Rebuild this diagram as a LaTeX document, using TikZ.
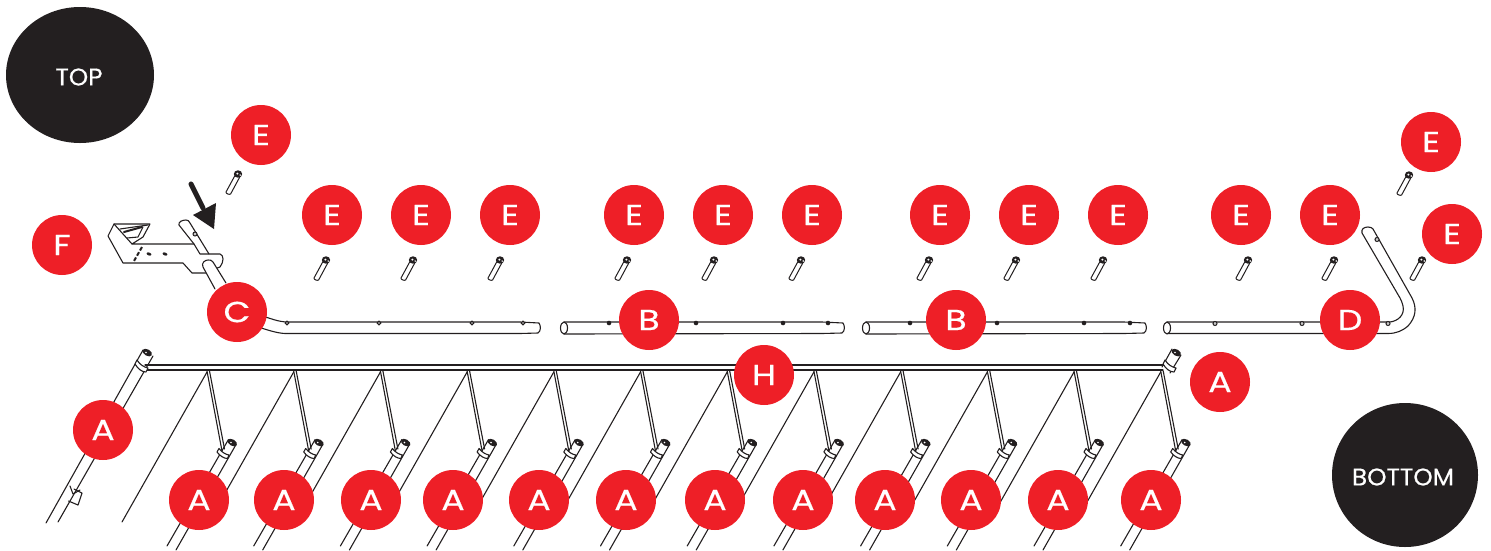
\documentclass[tikz,border=0pt]{standalone}
\usepackage{fontspec}
\setmainfont{Poppins}[FakeBold=0.5]
\newfontfamily\tagfont{Poppins}[FakeBold=0.5,FakeStretch=1.2]
\newfontfamily\sidefont{Poppins}[FakeBold=0.5,FakeStretch=1.03]
\definecolor{tagred}{HTML}{EE1F27}
\definecolor{ink}{HTML}{231F20}
\tikzset{
  tag/.style={circle,fill=tagred,text=white,minimum size=60pt,inner sep=0pt,font=\tagfont\fontsize{29}{29}\selectfont},
  wire/.style={draw=ink,line width=1.1pt,line join=round,line cap=round},
  screw/.pic={
    \draw[wire,line width=1pt,fill=white] (2.2,1.2) -- (-7.4,19) .. controls (-8.5,20) and (-12.5,18.5) .. (-12,17) -- (-2.2,-1.0);
    \fill[ink] (0,-1) ellipse (4.2 and 3.7);
    \fill[white] (-.6,-1.4) circle (1.1);
    \fill[white] (2.2,0) circle (.8);
  },
  post/.pic={
    \draw[wire] (-3.6,-3.4) -- (-65,103);
    \draw[wire] (4.2,1.2) -- (-56,107);
    \draw[wire,fill=white] (-15,9) -- (-13,5.5) .. controls (-10,9.5) and (-6,11.5) .. (-3,12) -- (-4.5,15.5) .. controls (-8,15.5) and (-12,13) .. (-15,9);
    \fill[ink,rotate=-30] (0,-.5) ellipse (5.2 and 3.2);
    \fill[white] (-1,-.5) circle (.9);
  },
  hole/.style={draw=ink,line width=1pt,fill=ink!25},
}
\begin{document}
\begin{tikzpicture}[x=1pt,y=-1pt]
\useasboundingbox (0,0) rectangle (1491,550);
% long bar
\draw[wire] (145,365) -- (1166,365);
\draw[wire] (144,370) -- (1163,370);
% left and right end posts
\draw[wire] (143,350) -- (46,523);
\draw[wire] (153,356) -- (58,522);
\draw[wire,fill=white] (135,364) -- (137,360) .. controls (140,365) and (144,367) .. (148,368) -- (146,372) .. controls (142,372) and (138,369) .. (135,364);
\fill[ink,rotate around={-30:(147,353)}] (147,352.5) ellipse (5.2 and 3.2);
\fill[white] (146,352.5) circle (.9);
\draw[wire] (70,486) -- (73,494) -- (80,490);
\draw[wire] (74,489) -- (82,493) -- (78,505) -- (68.5,501);
\draw[wire] (1172,349) -- (1162,367);
\draw[wire] (1181,355) -- (1170,373);
\draw[wire,fill=white] (1163,364) -- (1165,360) .. controls (1168,365) and (1172,367) .. (1176,368) -- (1174,372) .. controls (1170,372) and (1166,369) .. (1163,364);
\fill[ink,rotate around={-30:(1176,353)}] (1176,352.5) ellipse (5.2 and 3.2);
\fill[white] (1175,352.5) circle (.9);
% struts, long lines and lower posts
\foreach \k in {0,...,11}{
  \pgfmathsetmacro{\sx}{207+86.7*\k}
  \pgfmathsetmacro{\cx}{232+86.7*\k}
  \draw[wire] (\sx,372) -- ++(-85,150);
  \draw[wire] (\sx,371) -- ++(15,80);
  \draw[wire] (\sx+2.5,371) -- ++(15,78);
  \pic at (\cx,443) {post};
}
% bracket F
\draw[wire,fill=white] (108,236) -- (114,224) -- (150,224) -- (143,237) -- (132,244) -- (194,244) -- (200,254) -- (220,254) .. controls (224,255) and (224,262) .. (220,267) -- (214,269) -- (208,273) -- (192,273) -- (183,263) -- (123,263) -- cycle;
\draw[wire] (114,224) -- (132,244);
\draw[wire] (120,229) -- (148,225);
\draw[wire,line width=2pt] (124,232) -- (142,227);
\draw[wire] (127,238) -- (138,237) -- (143,227);
\draw[draw=ink,line width=2pt,dash pattern=on 4pt off 2pt] (142,247) -- (134,261);
\fill[ink,rotate around={-20:(149,254)}] (149,254) ellipse (2.5 and 1.5);
\fill[ink,rotate around={-20:(165,254)}] (165,254) ellipse (2.5 and 1.5);
\draw[wire] (194,244) -- (179,225) .. controls (178,222) and (182,220) .. (186,220) .. controls (188,220) and (189,221) .. (190,223) -- (209,254);
\draw[hole] (195,234) circle (2);
% tube C, lower part in front of the bracket
\draw[wire,fill=white] (215,289) -- (203,267) .. controls (201,263) and (205,260) .. (208,260) .. controls (210,260) and (212,260) .. (213,262) -- (226,283);
% tube C horizontal
\draw[wire] (262,316) .. controls (270,318) and (278,322) .. (288,322) -- (520,322) -- (539,323) .. controls (541,326) and (541,331) .. (538,333) -- (520,333.5) -- (285,333.5) .. controls (276,333) and (268,330) .. (258,327);
\foreach \hx in {287,379,472,523}{\draw[hole] (\hx,323) circle (1.9);}
% tubes B
\foreach \bx in {564,866}{
  \begin{scope}[shift={(\bx,0)}]
  \draw[wire] (0,322) -- (258,322) -- (279,323) .. controls (281,326) and (281,331) .. (278,333) -- (258,333.5) -- (0,334);
  \draw[wire,fill=white] (0,328) ellipse (3.5 and 6);
  \end{scope}
}
\foreach \hx in {609,696,783,828,910,997,1084,1130}{\fill[ink] (\hx,323) circle (2.3);}
% tube D
\draw[wire] (1167,322) -- (1390,322) .. controls (1398,321) and (1405,315) .. (1403,306) .. controls (1402,302) and (1401,300) .. (1400,298) -- (1362,233) .. controls (1361,229) and (1364,227) .. (1368,227) .. controls (1371,227) and (1372,228) .. (1373,229) -- (1412,298) .. controls (1417,308) and (1416,317) .. (1408,326) .. controls (1402,331) and (1396,333.5) .. (1388,333.5) -- (1167,333.5);
\draw[wire,fill=white] (1167,328) ellipse (3.5 and 6);
\foreach \hx/\hy in {1215/323.5,1302/323.5,1388/323.5,1377/239.5}{\draw[hole] (\hx,\hy) circle (2);}
% screws
\foreach \sx in {326,413,500,627,714,801,929,1016,1103,1248,1334,1422}{\pic at (\sx,261) {screw};}
\pic at (238,175) {screw};
\pic at (1409,176) {screw};
% arrow
\draw[draw=ink,line width=5pt,line cap=round] (191,184) -- (203,208);
\fill[ink] (193,215) -- (216,203) -- (214,229) -- cycle;
% side labels
\fill[ink] (80,75) ellipse (74 and 68);
\node[text=white,font=\sidefont\fontsize{24}{24}\selectfont] (top) at (79,77) {TOP};
\fill[ink] (1405,475) ellipse (73 and 72);
\node[text=white,font=\sidefont\fontsize{24}{24}\selectfont] (bottom) at (1403,477) {BOTTOM};
% tags
\foreach \n/\x/\y/\t in {e1/261/135/E,e2/332/215/E,e3/421/215/E,e4/510/215/E,e5/634/215/E,e6/723/215/E,e7/812/215/E,e8/940/215/E,e9/1029/215/E,e10/1118/215/E,e11/1241/215/E,e12/1330/215/E,e13/1431/142/E,e14/1452/234/E,
 f/62/245/F,c/237/312/C,b1/649/320/B,b2/956/320/B,d/1350/320/D,h/764/375/H,a1/1220/382/A,a2/103/430/A,
 a3/199/500/A,a4/284/500/A,a5/371/500/A,a6/453/500/A,a7/539/500/A,a8/626/500/A,a9/715/500/A,a10/803/500/A,a11/885/500/A,a12/971/500/A,a13/1058/500/A,a14/1151/500/A}{
  \node[tag] (\n) at (\x,\y) {\t};
}
\end{tikzpicture}
\end{document}
